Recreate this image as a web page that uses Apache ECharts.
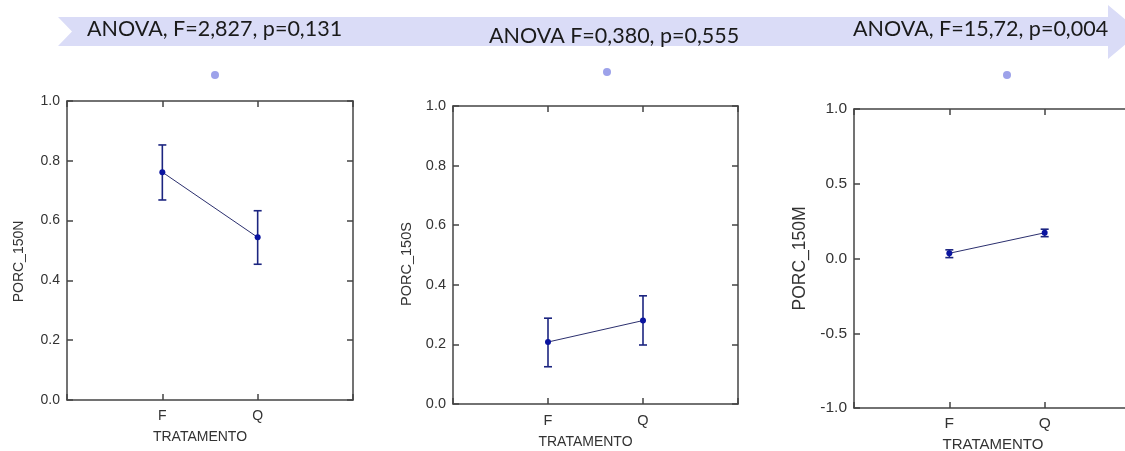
<!DOCTYPE html>
<html>
<head>
<meta charset="utf-8">
<script src="https://cdn.jsdelivr.net/npm/echarts@6/dist/echarts.min.js"></script>
<style>
html,body{margin:0;padding:0;background:#fff;}
#main{width:1125px;height:451px;}
</style>
</head>
<body>
<div id="main"></div>
<script>
// categorias e valores
var categories = ['F', 'Q'];
var catPos = [1, 2];

var meanN = [0.762, 0.544];
var lowN  = [0.669, 0.454];
var highN = [0.853, 0.633];

var meanS = [0.208, 0.280];
var lowS  = [0.125, 0.198];
var highS = [0.288, 0.363];

var meanM = [0.035, 0.172];
var lowM  = [0.006, 0.146];
var highM = [0.058, 0.196];

var yNames = ['PORC_150N', 'PORC_150S', 'PORC_150M'];
var anovaTexts = ['ANOVA, F=2,827, p=0,131', 'ANOVA F=0,380, p=0,555', 'ANOVA, F=15,72, p=0,004'];

var chart = echarts.init(document.getElementById('main'));

var grids = [
  {left: 67, top: 101, width: 286, height: 299, outerBoundsMode: 'none'},
  {left: 453, top: 106, width: 285, height: 298, outerBoundsMode: 'none'},
  {left: 854, top: 109, width: 286, height: 299, outerBoundsMode: 'none'}
];
var yRanges = [
  {min: 0, max: 1, interval: 0.2},
  {min: 0, max: 1, interval: 0.2},
  {min: -1, max: 1, interval: 0.5}
];
// o terceiro painel esta ampliado na figura original
var tickSize = [14, 14.5, 15.5];
var yNameSize = [14, 14.5, 17.5];
var xNameSize = [14, 14, 15];
var yNameGap = [41, 39, 45];
var xNameGap = [30, 31, 29];
var xNameShift = [20, 20, 8];
var yNameShift = [22, 18, 0];
var xLabelMargin = [9, 9, 8];
// borda direita do terceiro painel fica fora da imagem
var showRight = [true, true, false];

var lineC = '#444';
var fam = 'Liberation Sans';

var xAxes = [], yAxes = [], series = [];
var panels = [[meanN, lowN, highN], [meanS, lowS, highS], [meanM, lowM, highM]];

function tickOpt(){
  return {show: true, inside: true, length: 6, lineStyle: {color: lineC, width: 1.5}};
}
function lineOpt(){
  return {show: true, onZero: false, lineStyle: {color: lineC, width: 1.5}};
}

grids.forEach(function(g, i){
  xAxes.push({
    type: 'value', gridIndex: i, min: 0, max: 3, interval: 1, position: 'bottom',
    name: 'TRATAMENTO', nameLocation: 'middle', nameGap: xNameGap[i],
    nameTextStyle: {color: '#333', fontSize: xNameSize[i], fontFamily: fam, padding: [0, xNameShift[i], 0, 0]},
    axisLine: lineOpt(),
    axisTick: tickOpt(),
    axisLabel: {margin: xLabelMargin[i], color: '#333', fontSize: tickSize[i], fontFamily: fam,
      formatter: function(v){ var k = catPos.indexOf(v); return k >= 0 ? categories[k] : ''; }},
    splitLine: {show: false}
  });
  xAxes.push({
    type: 'value', gridIndex: i, min: 0, max: 3, interval: 1, position: 'top',
    axisLine: lineOpt(),
    axisTick: tickOpt(),
    axisLabel: {show: false}, splitLine: {show: false}
  });
  yAxes.push({
    type: 'value', gridIndex: i, min: yRanges[i].min, max: yRanges[i].max, interval: yRanges[i].interval,
    position: 'left', name: yNames[i], nameLocation: 'middle', nameGap: yNameGap[i],
    nameTextStyle: {color: '#333', fontSize: yNameSize[i], fontFamily: fam, padding: [0, yNameShift[i], 0, 0]},
    axisLine: lineOpt(),
    axisTick: tickOpt(),
    axisLabel: {margin: 7, color: '#333', fontSize: tickSize[i], fontFamily: fam,
      formatter: function(v){ return v.toFixed(1); }},
    splitLine: {show: false}
  });
  yAxes.push({
    type: 'value', gridIndex: i, show: showRight[i],
    min: yRanges[i].min, max: yRanges[i].max, interval: yRanges[i].interval,
    position: 'right',
    axisLine: lineOpt(),
    axisTick: tickOpt(),
    axisLabel: {show: false}, splitLine: {show: false}
  });

  var p = panels[i];
  series.push({
    type: 'line', xAxisIndex: 2 * i, yAxisIndex: 2 * i,
    data: catPos.map(function(x, k){ return [x, p[0][k]]; }),
    symbol: 'circle', symbolSize: 6,
    itemStyle: {color: '#0a14a0'},
    lineStyle: {color: '#2b2f6e', width: 1},
    z: 3
  });
  series.push({
    type: 'custom', xAxisIndex: 2 * i, yAxisIndex: 2 * i,
    data: catPos.map(function(x, k){ return [x, p[1][k], p[2][k]]; }),
    renderItem: function(params, api){
      var x = api.value(0);
      var top = api.coord([x, api.value(2)]);
      var bot = api.coord([x, api.value(1)]);
      var w = 4;
      var st = {stroke: '#1c2580', lineWidth: 1.6};
      return {type: 'group', children: [
        {type: 'line', shape: {x1: top[0], y1: top[1], x2: bot[0], y2: bot[1]}, style: st},
        {type: 'line', shape: {x1: top[0] - w, y1: top[1], x2: top[0] + w, y2: top[1]}, style: st},
        {type: 'line', shape: {x1: bot[0] - w, y1: bot[1], x2: bot[0] + w, y2: bot[1]}, style: st}
      ]};
    },
    z: 2
  });
});

var bandColor = '#dadcf7';
var graphic = [
  {type: 'polygon', shape: {points: [[58, 17], [1108, 17], [1108, 5], [1140, 32], [1108, 59], [1108, 46], [58, 46], [72, 31.5]]},
   style: {fill: bandColor}, z: 0},
  {type: 'text', left: 87, top: 18, style: {text: anovaTexts[0], fill: '#1a1a1a', font: '21.5px Lato'}},
  {type: 'text', left: 489, top: 25, style: {text: anovaTexts[1], fill: '#1a1a1a', font: '21.5px Lato'}},
  {type: 'text', left: 853, top: 18, style: {text: anovaTexts[2], fill: '#1a1a1a', font: '21.5px Lato'}},
  {type: 'circle', shape: {cx: 215, cy: 75, r: 4}, style: {fill: '#9da2ea'}},
  {type: 'circle', shape: {cx: 607, cy: 72, r: 4}, style: {fill: '#9da2ea'}},
  {type: 'circle', shape: {cx: 1007, cy: 75, r: 4}, style: {fill: '#9da2ea'}}
];

chart.setOption({
  animation: false,
  backgroundColor: '#fff',
  grid: grids,
  xAxis: xAxes,
  yAxis: yAxes,
  series: series,
  graphic: graphic
});
</script>
</body>
</html>
